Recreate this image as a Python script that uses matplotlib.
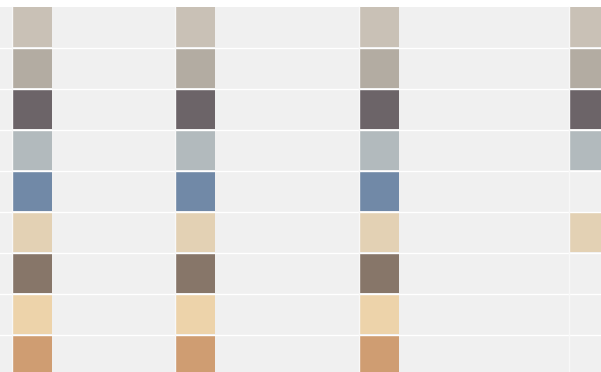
import matplotlib
matplotlib.use('Agg')
import matplotlib.pyplot as plt

# ── data: swatch colours per row, and which rows each column shows ───────────
row_colors = ['#c9c1b6', '#b3aca2', '#6c6468', '#b2babd', '#7189a7',
              '#e3d1b4', '#877669', '#edd3aa', '#cf9d72']
col_rows = [
    [0, 1, 2, 3, 4, 5, 6, 7, 8],
    [0, 1, 2, 3, 4, 5, 6, 7, 8],
    [0, 1, 2, 3, 4, 5, 6, 7, 8],
    [0, 1, 2, 3, 5],
]

# ── layout (pixels) ─────────────────────────────────────────────────────────
W, H = 601, 372
TOP = 7
ROW_H = 41
SW = 40
col_lines = [11, 174, 358, 568]

fig = plt.figure(figsize=(W / 100, H / 100), dpi=100)
fig.patch.set_facecolor('white')
ax = fig.add_axes([0, 0, 1, 1])
ax.set_xlim(0, W)
ax.set_ylim(H, 0)
ax.axis('off')

# grey table background
ax.bar(0, H - TOP, width=W, bottom=TOP, align='edge', color='#f0f0f0', linewidth=0)

# row separators
for k in range(len(row_colors)):
    y = TOP + ROW_H * k + SW + 0.5
    ax.axhline(y, color='white', linewidth=1.0)

# column separators (fainter than the row lines)
for x in col_lines:
    ax.axvline(x + 0.5, ymin=0, ymax=1 - TOP / H, color='#f8f8f8', linewidth=1.0)

# swatches
for x, rows in zip(col_lines, col_rows):
    for r in rows:
        ax.bar(x + 1, SW, width=SW, bottom=TOP + ROW_H * r, align='edge',
               color=row_colors[r], linewidth=0)

fig.savefig('out.png', dpi=100, facecolor='white')
